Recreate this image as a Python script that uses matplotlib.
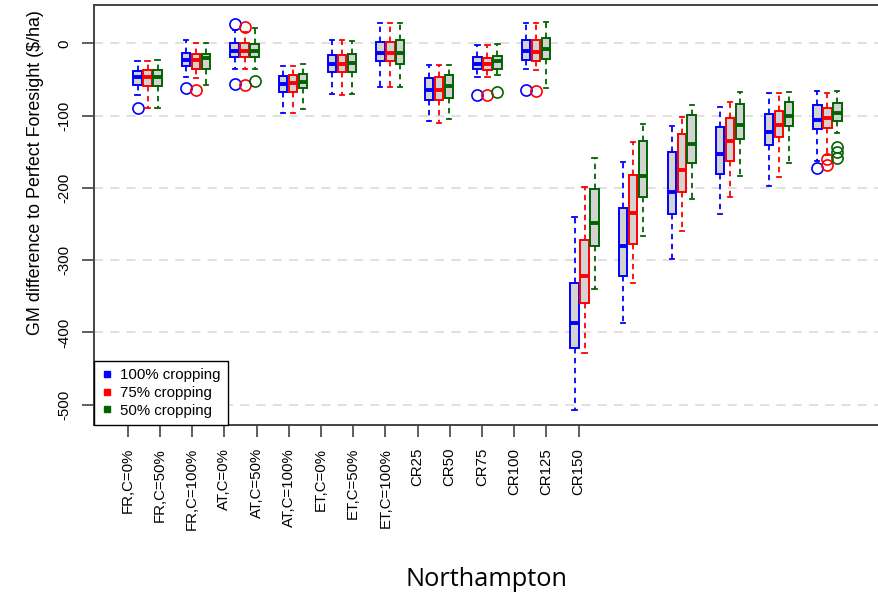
import matplotlib
matplotlib.use("Agg")
import matplotlib.pyplot as plt
from matplotlib.lines import Line2D
import numpy as np

plt.rcParams['font.family'] = ['Liberation Sans', 'DejaVu Sans']
plt.rcParams['axes.unicode_minus'] = False

labels = ['FR,C=0%', 'FR,C=50%', 'FR,C=100%', 'AT,C=0%', 'AT,C=50%', 'AT,C=100%',
          'ET,C=0%', 'ET,C=50%', 'ET,C=100%', 'CR25', 'CR50', 'CR75', 'CR100',
          'CR125', 'CR150']

# (whisker low, q1, median, q3, whisker high) per scenario
crop100 = [(-72, -57, -47, -38, -24), (-46, -31, -23, -14, 5), (-35, -19, -10, 0, 18),
           (-97, -68, -56, -45, -32), (-70, -39, -28, -16, 5), (-61, -25, -14, 2, 28),
           (-107, -78, -64, -48, -30), (-46, -36, -28, -19, -2), (-36, -23, -10, 5, 28),
           (-507, -422, -387, -332, -240), (-387, -322, -280, -228, -164),
           (-298, -236, -205, -151, -115), (-236, -181, -153, -116, -88),
           (-197, -141, -122, -98, -69), (-163, -119, -106, -86, -66)]
crop75 = [(-90, -59, -47, -37, -24), (-48, -35, -23, -15, 1), (-35, -19, -10, 0, 15),
          (-97, -67, -55, -44, -32), (-71, -39, -28, -16, 5), (-61, -25, -14, 2, 28),
          (-110, -78, -64, -47, -30), (-46, -37, -29, -21, -2), (-37, -24, -12, 5, 28),
          (-429, -359, -322, -272, -199), (-331, -277, -235, -182, -137),
          (-260, -205, -175, -126, -102), (-213, -163, -135, -103, -81),
          (-185, -129, -113, -93, -69), (-155, -117, -104, -90, -69)]
crop50 = [(-89, -59, -47, -37, -23), (-58, -35, -21, -15, 0), (-36, -19, -10, -1, 21),
          (-91, -62, -53, -42, -29), (-70, -39, -27, -15, 3), (-61, -29, -14, 5, 28),
          (-105, -75, -59, -44, -30), (-44, -35, -25, -18, -1), (-62, -22, -8, 7, 30),
          (-340, -280, -248, -202, -158), (-267, -213, -183, -135, -112),
          (-216, -165, -139, -99, -85), (-184, -133, -113, -84, -68),
          (-165, -115, -101, -81, -67), (-124, -108, -96, -83, -66)]

# outliers, keyed by scenario index
out100 = {0: [-90], 1: [-62], 2: [27, -56], 7: [-71], 8: [-65], 14: [-173]}
out75 = {1: [-64], 2: [23, -58], 7: [-72], 8: [-66], 14: [-160, -168]}
out50 = {2: [-52], 7: [-68], 14: [-144, -151, -159]}

series = [('100% cropping', crop100, out100, '#0000ff'),
          ('75% cropping', crop75, out75, '#ff0000'),
          ('50% cropping', crop50, out50, '#006400')]

fig = plt.figure(figsize=(8.79, 6.0), dpi=100)
ax = fig.add_axes([94 / 879, 1 - 425 / 600, 785 / 879, 420 / 600])

ax.set_xlim(-0.047, 24.33)
ax.set_ylim(-528, 53)

ax.set_yticks(np.arange(-500, 1, 100))
ax.yaxis.grid(True, color='#dddddd', linestyle=(0, (5, 4)), linewidth=1.3)
ax.set_axisbelow(True)

# boxes sit on their own spacing, the axis labels on 1..15
centers = 1.615 + 1.508 * np.arange(len(labels))
for k, (name, stats, outs, col) in enumerate(series):
    bstats = []
    for i, (lo, q1, med, q3, hi) in enumerate(stats):
        bstats.append(dict(whislo=lo, q1=q1, med=med, q3=q3, whishi=hi,
                           fliers=outs.get(i, [])))
    ax.bxp(bstats, positions=centers + (k - 1) * 0.31, widths=0.26,
           capwidths=0.13, patch_artist=True, manage_ticks=False,
           boxprops=dict(facecolor='#d3d3d3', edgecolor=col, linewidth=1.4),
           whiskerprops=dict(color=col, linestyle=(0, (3, 2.5)), linewidth=1.3),
           capprops=dict(color=col, linewidth=1.3),
           medianprops=dict(color=col, linewidth=2.8, solid_capstyle='butt'),
           flierprops=dict(marker='o', markerfacecolor='none',
                           markeredgecolor=col, markersize=8, markeredgewidth=1.2))

ax.set_xticks(np.arange(1, len(labels) + 1))
ax.set_xticklabels(labels, rotation=90, fontsize=10.8)
ax.tick_params(axis='x', length=8.5, width=1.1, color='#333333', pad=8)
ax.tick_params(axis='y', length=9, width=1.1, color='#333333', pad=7,
               labelsize=10.8, labelrotation=90)
for t in ax.get_yticklabels():
    t.set_va('center')

for s in ['left', 'bottom', 'top']:
    ax.spines[s].set_color('#444444')
    ax.spines[s].set_linewidth(1.4)
ax.spines['right'].set_visible(False)

ax.set_ylabel('GM difference to Perfect Foresight ($/ha)', fontsize=12.9)
ax.yaxis.set_label_coords(-0.064, 0.602)

handles = [Line2D([], [], marker='s', linestyle='none', color=c, markersize=4.5)
           for _, _, _, c in series]
leg = ax.legend(handles, [s[0] for s in series], loc='lower left',
                bbox_to_anchor=(0, 0), borderaxespad=0, fontsize=10.8,
                fancybox=False, edgecolor='black', framealpha=1,
                handlelength=0.7, handletextpad=0.55, labelspacing=0.25,
                borderpad=0.5)
leg.get_frame().set_linewidth(1.0)

fig.text(487 / 879, 1 - 580 / 600, 'Northampton', family='Open Sans',
         fontsize=18.3, ha='center', va='center')

fig.savefig('out.png', dpi=100)
